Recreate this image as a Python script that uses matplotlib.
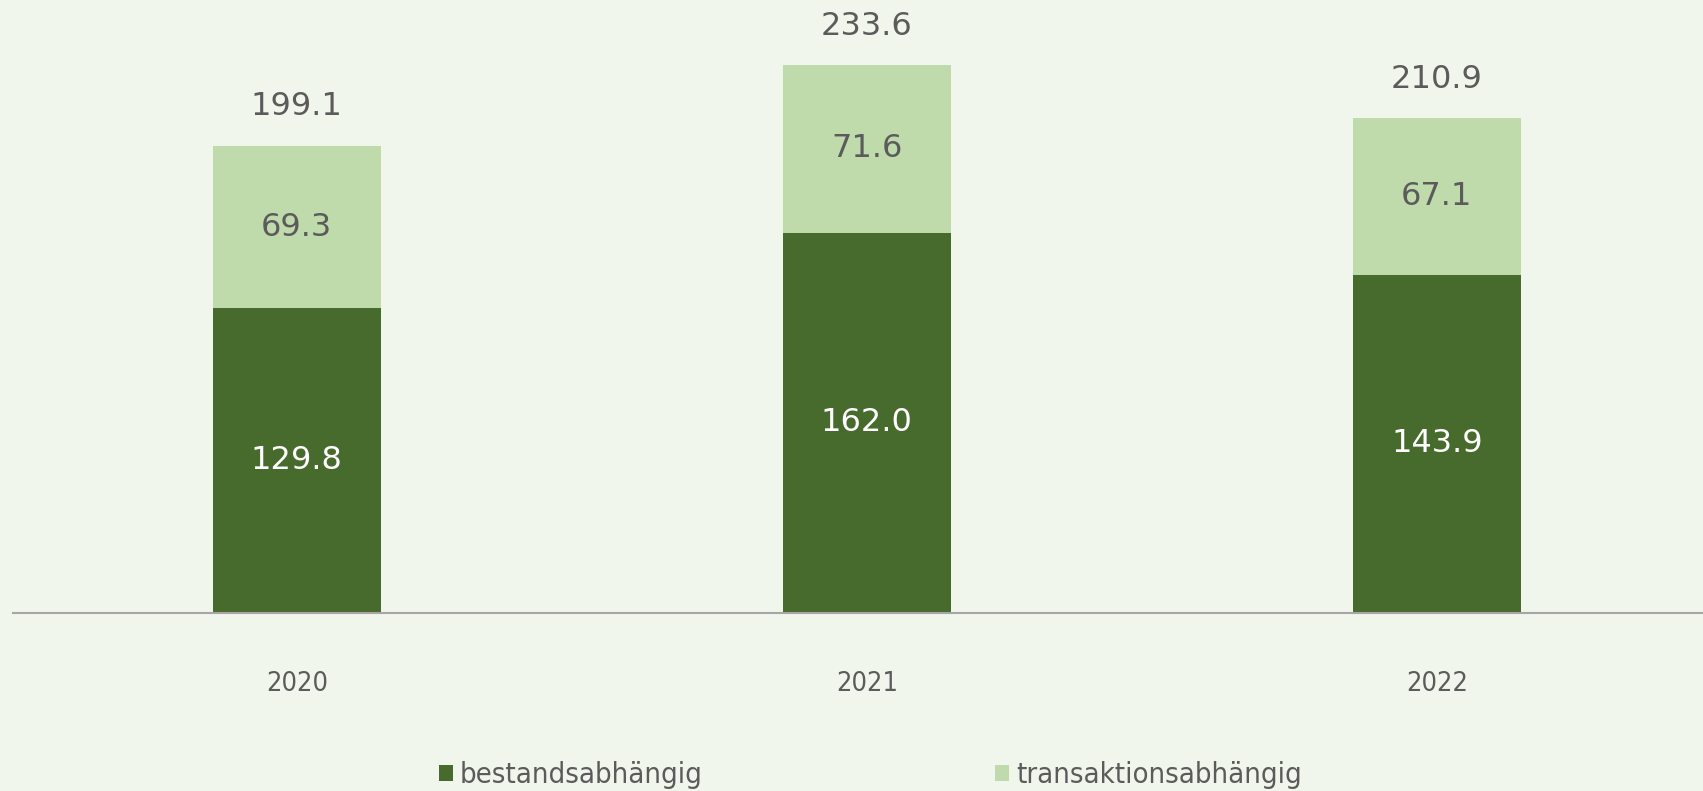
import matplotlib.pyplot as plt
import numpy as np

years = ["2020", "2021", "2022"]
bestand = [129.8, 162.0, 143.9]
transaktion = [69.3, 71.6, 67.1]
totals = [199.1, 233.6, 210.9]

DARK = "#476A2D"
LIGHT = "#BFDAAB"
BG = "#F1F6EC"
TXT = "#5B5B5B"

plt.rcParams["font.family"] = "DejaVu Sans"

fig = plt.figure(figsize=(17.03, 7.91), dpi=100, facecolor=BG)
ax = fig.add_axes([13 / 1703, (791 - 612.5) / 791, 1 - 13 / 1703, 612.5 / 791])
ax.set_facecolor(BG)

x = np.arange(len(years))
w = 0.295
ax.bar(x, bestand, w, color=DARK, label="bestandsabhängig")
ax.bar(x, transaktion, w, bottom=bestand, color=LIGHT, label="transaktionsabhängig")

# segment and total labels
for xi, b, t, tot in zip(x, bestand, transaktion, totals):
    ax.text(xi, b / 2, f"{b:.1f}", ha="center", va="center", color="white", fontsize=23)
    ax.text(xi, b + t / 2, f"{t:.1f}", ha="center", va="center", color=TXT, fontsize=23)
    ax.annotate(f"{tot:.1f}", (xi, b + t), xytext=(0, 28), textcoords="offset points",
                ha="center", va="center", color=TXT, fontsize=23)

ax.set_xlim(-0.498, 2.467)
ax.set_ylim(0, 261.3)
ax.set_yticks([])
ax.set_xticks(x)
ax.set_xticklabels(years, fontsize=19.5, color=TXT, fontstretch="condensed")
ax.tick_params(axis="x", length=0, pad=42)
for s in ["top", "right", "left"]:
    ax.spines[s].set_visible(False)
ax.spines["bottom"].set_color("#A6A6A6")
ax.spines["bottom"].set_linewidth(1.5)

leg = fig.legend(loc="center", bbox_to_anchor=(0.511, (791 - 775) / 791), ncol=2,
                 frameon=False, handlelength=0.48, handleheight=0.48,
                 handletextpad=0.25, columnspacing=10.0,
                 prop={"size": 21, "stretch": "condensed"})
for t in leg.get_texts():
    t.set_color(TXT)

fig.savefig("out.png", dpi=100, facecolor=BG)
